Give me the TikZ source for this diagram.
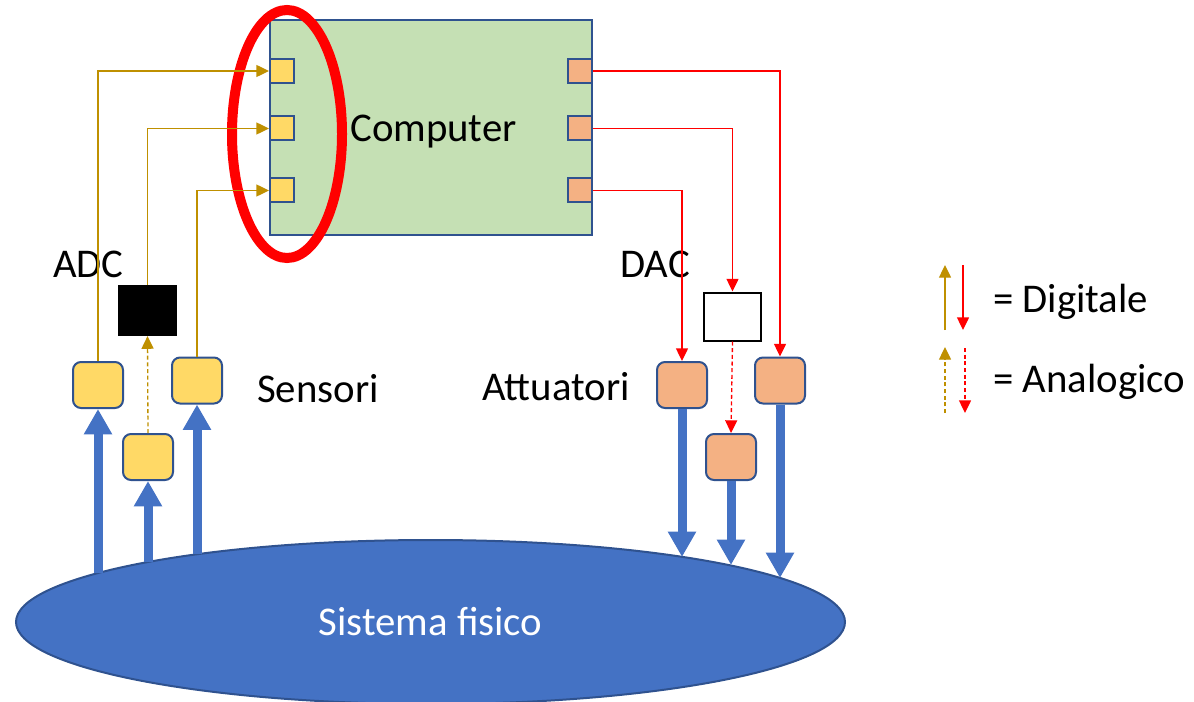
\documentclass[tikz,border=0pt]{standalone}
\usepackage{fontspec}
\setmainfont{Carlito}
\usetikzlibrary{positioning,arrows.meta,shapes.geometric}
\definecolor{compgreen}{HTML}{C5E0B4}
\definecolor{portblue}{HTML}{2F528F}
\definecolor{inyellow}{HTML}{FFD966}
\definecolor{outorange}{HTML}{F4B183}
\definecolor{digold}{HTML}{BF9000}
\definecolor{sysblue}{HTML}{4472C4}

\begin{document}
\begin{tikzpicture}[x=0.75pt,y=-0.75pt,every node/.style={font=\fontsize{30.6}{36}\selectfont},
  port/.style={draw=portblue,line width=1.5pt,minimum size=18pt,inner sep=0pt},
  dev/.style={draw=portblue,line width=1.5pt,rounded corners=6pt,minimum width=37.5pt,minimum height=34.5pt,inner sep=0pt},
  lbl/.style={anchor=base west,inner sep=0pt},
  goldline/.style={draw=digold,line width=1pt,-{Triangle[length=9.5pt,width=9pt]}},
  redline/.style={draw=red,line width=1pt,-{Triangle[length=9.5pt,width=9pt]}},
  analog/.style={dash pattern=on 3pt off 2pt},
  bigarrow/.style={draw=sysblue,line width=6.75pt,-{Triangle[length=19pt,width=20pt]}}]
\useasboundingbox (0,0) rectangle (1194,702);

\node[draw=portblue,line width=1.5pt,fill=compgreen,minimum width=241.5pt,minimum height=161.25pt] (comp) at (431,127.5) {};
\node[lbl] (complbl) at (350,142) {Computer};
\node[port,fill=inyellow] (p1) at (282,71) {};
\node[port,fill=inyellow] (p2) at (282,128.5) {};
\node[port,fill=inyellow] (p3) at (282,190.5) {};
\node[port,fill=outorange] (q1) at (579.5,71) {};
\node[port,fill=outorange] (q2) at (579.5,128.5) {};
\node[port,fill=outorange] (q3) at (579.5,190.5) {};
\draw[red,line width=7.5pt] (287,134) ellipse [x radius=55,y radius=124];

\node[dev,fill=inyellow] (s1) at (98,385) {};
\node[dev,fill=inyellow] (s2) at (148,457) {};
\node[dev,fill=inyellow] (s3) at (197,380.5) {};
\node[dev,fill=outorange] (a1) at (682,385) {};
\node[dev,fill=outorange] (a2) at (731,457) {};
\node[dev,fill=outorange] (a3) at (780,380.5) {};
\node[fill=black,minimum width=44pt,minimum height=38pt,inner sep=0pt] (adc) at (147.5,310.5) {};
\node[draw=black,line width=1.5pt,fill=white,minimum width=43pt,minimum height=36pt,inner sep=0pt] (dac) at (732.5,316.5) {};

\node[lbl] (adclbl) at (53,277) {ADC};
\node[lbl] (daclbl) at (620,277) {DAC};
\node[lbl] (senslbl) at (257,402) {Sensori};
\node[lbl] (attlbl) at (482,400) {Attuatori};
\node[lbl] (diglbl) at (993,312) {= Digitale};
\node[lbl] (anlbl) at (993,392) {= Analogico};

\draw[goldline] (s1.north) |- (p1.west);
\draw[goldline] (adc.north) |- (p2.west);
\draw[goldline] (s3.north) |- (p3.west);
\draw[goldline,analog] (s2.north) -- (adc.south);
\draw[redline] (q1.east) -| (a3.north);
\draw[redline] (q2.east) -| (dac.north);
\draw[redline] (q3.east) -| (a1.north);
\draw[redline,analog] (dac.south) -- (a2.north);

\node[ellipse,fill=sysblue,draw=portblue,line width=1.5pt,minimum width=621.75pt,minimum height=123pt,text=white] (sys) at (430.5,622) {Sistema fisico};
\coordinate (e1) at (98,573);
\coordinate (e2) at (148,562);
\coordinate (e3) at (197,554);
\coordinate (f1) at (682,557);
\coordinate (f2) at (731,565);
\coordinate (f3) at (780,578);
\draw[bigarrow] (e1) -- (s1.south);
\draw[bigarrow] (e2) -- (s2.south);
\draw[bigarrow] (e3) -- (s3.south);
\draw[bigarrow] (a1.south) -- (f1);
\draw[bigarrow] (a2.south) -- (f2);
\draw[bigarrow] (a3.south) -- (f3);

\coordinate (l1a) at (945,330);
\coordinate (l1b) at (945,265);
\coordinate (l2a) at (963,265);
\coordinate (l2b) at (963,330);
\coordinate (l3a) at (945,413);
\coordinate (l3b) at (945,347);
\coordinate (l4a) at (965,348);
\coordinate (l4b) at (965,413);
\draw[goldline] (l1a) -- (l1b);
\draw[redline] (l2a) -- (l2b);
\draw[goldline,analog] (l3a) -- (l3b);
\draw[redline,analog] (l4a) -- (l4b);
\end{tikzpicture}
\end{document}
